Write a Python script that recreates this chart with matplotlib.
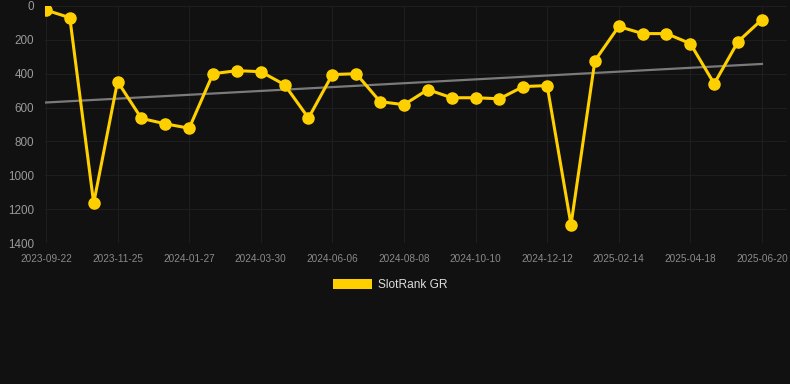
import numpy as np
import matplotlib.pyplot as plt
from matplotlib.patches import Patch

dates = ['2023-09-22', '2023-10-13', '2023-11-03', '2023-11-25', '2023-12-16',
         '2024-01-06', '2024-01-27', '2024-02-17', '2024-03-09', '2024-03-30',
         '2024-04-22', '2024-05-14', '2024-06-06', '2024-06-27', '2024-07-18',
         '2024-08-08', '2024-08-29', '2024-09-19', '2024-10-10', '2024-10-31',
         '2024-11-21', '2024-12-12', '2025-01-02', '2025-01-24', '2025-02-14',
         '2025-03-07', '2025-03-28', '2025-04-18', '2025-05-09', '2025-05-30',
         '2025-06-20']
rank = [24, 69, 1165, 446, 664, 696, 722, 400, 382, 388,
        465, 662, 405, 400, 565, 583, 494, 542, 542, 548,
        476, 470, 1293, 323, 121, 163, 163, 222, 459, 210,
        80]
series_name = 'SlotRank GR'

bg = '#111111'
gold = '#FFD000'

x = np.arange(len(rank))
slope, intercept = np.polyfit(x, rank, 1)
trend = slope * x + intercept

fig = plt.figure(figsize=(7.9, 3.84), dpi=100, facecolor=bg)
ax = fig.add_axes([45 / 790, 1 - 243 / 384, 742 / 790, 237 / 384])
ax.set_facecolor(bg)

ax.plot(x[[0, -1]], trend[[0, -1]], color='#7a7a7a', linewidth=1.6, zorder=2)
ax.plot(x, rank, color=gold, linewidth=2.2, marker='o', markersize=8,
        solid_joinstyle='miter', zorder=3)

ax.set_ylim(1400, 0)
ax.set_yticks(range(0, 1401, 200))
ax.set_xlim(-0.04, 31.05)
ax.set_xticks(x[::3])
ax.set_xticklabels(dates[::3])

ax.grid(True, color='#1e1e1e', linewidth=0.8)
ax.set_axisbelow(True)
for s in ax.spines.values():
    s.set_visible(False)
ax.tick_params(axis='both', length=0)
ax.tick_params(axis='x', labelsize=7.2, labelcolor='#8a8a8a', pad=8)
ax.tick_params(axis='y', labelsize=8.4, labelcolor='#9a9a9a', pad=8)
for lab in ax.get_xticklabels() + ax.get_yticklabels():
    lab.set_fontfamily('Liberation Sans')

handle = Patch(facecolor=gold, edgecolor='none')
leg = fig.legend([handle], [series_name], loc='center', bbox_to_anchor=(0.494, 1 - 285 / 384),
                 frameon=False, handlelength=3.3, handleheight=0.9, handletextpad=0.5,
                 prop={'family': 'Liberation Sans', 'size': 8.6})
for t in leg.get_texts():
    t.set_color('#dddddd')

fig.savefig('out.png', dpi=100, facecolor=bg)
